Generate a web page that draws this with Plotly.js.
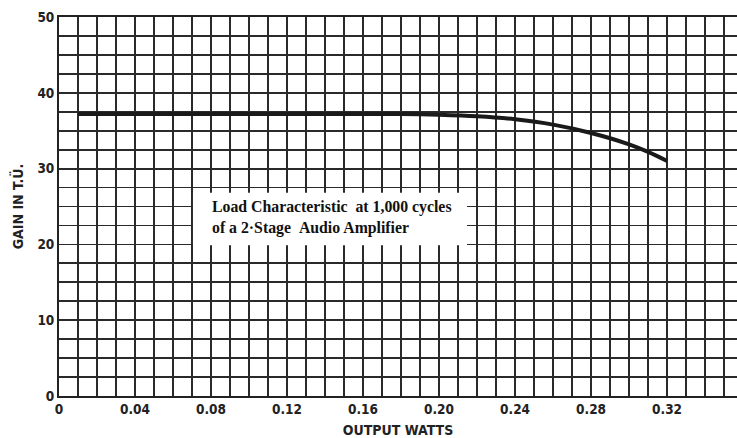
<!DOCTYPE html>
<html>
<head>
<meta charset="utf-8">
<script src="https://cdn.plot.ly/plotly-3.0.1.min.js"></script>
<style>html,body{margin:0;padding:0;background:#fff;}#chart{width:737px;height:438px;}</style>
</head>
<body>
<div id="chart"></div>
<script>
// Data
const outputWatts = [0.01, 0.05, 0.10, 0.15, 0.18, 0.20, 0.22, 0.24, 0.26, 0.28, 0.30, 0.31, 0.32];
const gainTU      = [37.2, 37.2, 37.2, 37.2, 37.2, 37.1, 36.9, 36.5, 35.8, 34.7, 33.2, 32.2, 31.0];
const xTickVals = [0, 0.04, 0.08, 0.12, 0.16, 0.20, 0.24, 0.28, 0.32];
const xTickText = ["0", "0.04", "0.08", "0.12", "0.16", "0.20", "0.24", "0.28", "0.32"];
const yTickVals = [0, 10, 20, 30, 40, 50];
const noteLines = ["Load Characteristic&nbsp;&nbsp;at 1,000 cycles", "of a 2·Stage&nbsp;&nbsp;Audio Amplifier"];

const tickFont = {family: "'DejaVu Sans Condensed', 'Liberation Sans Narrow', sans-serif", size: 13.5, color: "#222", weight: "bold"};
const titleFont = {family: "'DejaVu Sans Condensed', 'Liberation Sans Narrow', sans-serif", size: 14, color: "#222", weight: "bold"};
const gridCol = "#2a2a2a";

const trace = {
  x: outputWatts, y: gainTU, type: "scatter", mode: "lines",
  line: {color: "#1a1a1a", width: 4, shape: "spline", smoothing: 1},
  hoverinfo: "skip"
};

const layout = {
  width: 737, height: 438,
  margin: {l: 59, r: 0, t: 17, b: 42},
  paper_bgcolor: "#fff", plot_bgcolor: "#fff",
  showlegend: false,
  xaxis: {
    range: [0, 0.3568], tickvals: xTickVals, ticktext: xTickText,
    showgrid: true, gridcolor: gridCol, gridwidth: 1.8,
    minor: {dtick: 0.01, tick0: 0, showgrid: true, gridcolor: gridCol, gridwidth: 1.8},
    showline: true, linecolor: "#222", linewidth: 2, mirror: true,
    zeroline: false, ticks: "", tickfont: tickFont,
    title: {text: "OUTPUT WATTS", font: titleFont, standoff: 9}
  },
  yaxis: {
    range: [0, 50], tickvals: yTickVals,
    showgrid: true, gridcolor: gridCol, gridwidth: 1.8,
    minor: {dtick: 2.5, tick0: 0, showgrid: true, gridcolor: gridCol, gridwidth: 1.8},
    showline: true, linecolor: "#222", linewidth: 2, mirror: false,
    zeroline: false, ticks: "", tickfont: tickFont,
    title: {text: "GAIN IN T.Ü.", font: titleFont, standoff: 10}
  },
  shapes: [{
    type: "rect", xref: "x", yref: "y",
    x0: 0.0705, x1: 0.2147, y0: 19.9, y1: 26.8,
    fillcolor: "#fff", line: {width: 0}, layer: "above"
  }],
  annotations: [{
    xref: "x", yref: "y", x: 0.0795, y: 23.6, xanchor: "left", yanchor: "middle",
    text: noteLines.join("<br>"), align: "left", showarrow: false,
    font: {family: "'Liberation Serif', 'DejaVu Serif', serif", size: 15.8, color: "#111", weight: "bold"}
  }]
};

Plotly.newPlot("chart", [trace], layout, {displayModeBar: false, staticPlot: true});
</script>
</body>
</html>
